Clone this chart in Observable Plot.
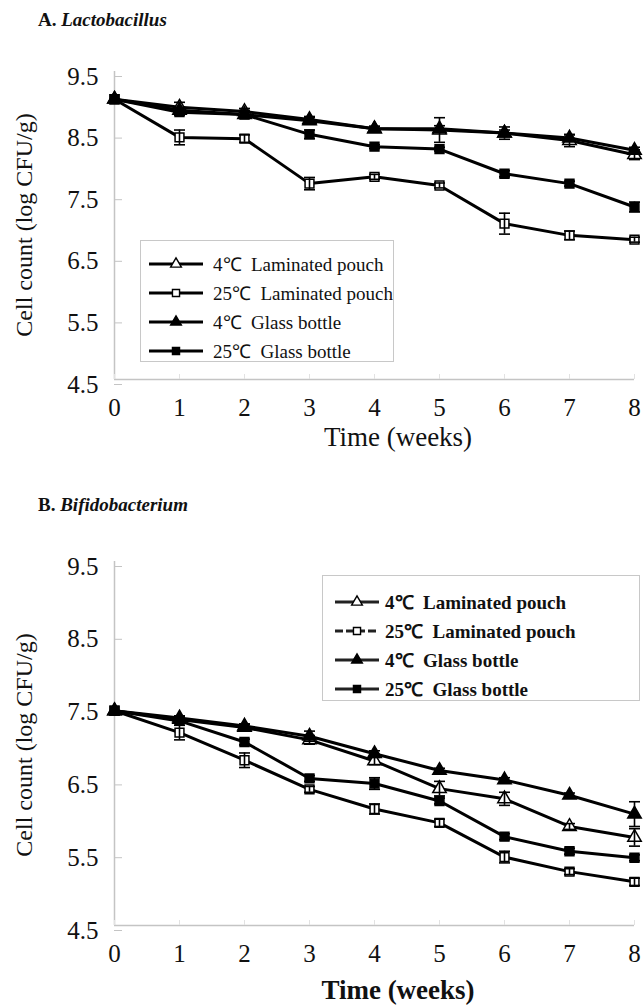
<!DOCTYPE html>
<html>
<head>
<meta charset="utf-8">
<script src="https://cdn.jsdelivr.net/npm/d3@7"></script>
<script src="https://cdn.jsdelivr.net/npm/@observablehq/plot@0.6"></script>
<style>
  html, body { margin: 0; padding: 0; background: #fff; }
  #page { position: relative; width: 644px; height: 1005px; overflow: hidden; font-family: "Liberation Serif", "Times New Roman", serif; color: #111; }
  .ptitle { position: absolute; left: 38px; font-size: 19px; font-weight: bold; }
  .ptitle i { font-style: italic; }
  .panel { position: absolute; left: 0; }
  .ylab { position: absolute; font-size: 24px; white-space: nowrap; transform: translate(-50%, -50%) rotate(-90deg); }
  .xlab { position: absolute; font-size: 27px; white-space: nowrap; transform: translate(-50%, -50%); }
  .legend { position: absolute; border: 1.5px solid #c8c8c8; background: #fff; box-sizing: border-box; overflow: hidden; }
  .legend .row { position: absolute; left: 0; display: flex; align-items: center; white-space: nowrap; }
  .legend svg { display: block; }
</style>
</head>
<body>
<div id="page"></div>
<script>
// ---------------- data ----------------
const weeks = [0, 1, 2, 3, 4, 5, 6, 7, 8];
const seriesNames = ["4℃ Laminated pouch", "25℃ Laminated pouch", "4℃ Glass bottle", "25℃ Glass bottle"];
const seriesOpen = [true, true, false, false];
const seriesSymbols = ["triangle", "square", "triangle", "square"];
const yTicks = [4.5, 5.5, 6.5, 7.5, 8.5, 9.5];

// A. Lactobacillus
const aLP4 = [9.05, 8.92, 8.85, 8.72, 8.57, 8.55, 8.50, 8.38, 8.15];
const aLP4err = [0, 0.08, 0.05, 0.05, 0.04, 0.20, 0.10, 0.10, 0.08];
const aLP25 = [9.05, 8.43, 8.41, 7.68, 7.79, 7.65, 7.03, 6.84, 6.77];
const aLP25err = [0, 0.12, 0.06, 0.10, 0.04, 0.04, 0.17, 0.07, 0.04];
const aGB4 = [9.05, 8.87, 8.80, 8.70, 8.57, 8.57, 8.50, 8.42, 8.22];
const aGB4err = [0, 0.05, 0.06, 0.05, 0.04, 0.05, 0.05, 0.05, 0.05];
const aGB25 = [9.05, 8.84, 8.80, 8.48, 8.28, 8.24, 7.84, 7.68, 7.30];
const aGB25err = [0, 0.05, 0.04, 0.07, 0.03, 0.03, 0.05, 0.04, 0.08];

// B. Bifidobacterium
const bLP4 = [7.45, 7.33, 7.22, 7.05, 6.76, 6.38, 6.24, 5.86, 5.71];
const bLP4err = [0, 0.04, 0.04, 0.06, 0.05, 0.10, 0.09, 0.04, 0.12];
const bLP25 = [7.45, 7.15, 6.77, 6.37, 6.10, 5.91, 5.44, 5.24, 5.10];
const bLP25err = [0, 0.10, 0.10, 0.04, 0.07, 0.05, 0.08, 0.04, 0.05];
const bGB4 = [7.45, 7.35, 7.24, 7.10, 6.86, 6.63, 6.50, 6.29, 6.03];
const bGB4err = [0, 0.03, 0.03, 0.07, 0.04, 0.03, 0.03, 0.03, 0.17];
const bGB25 = [7.45, 7.31, 7.02, 6.52, 6.45, 6.21, 5.72, 5.52, 5.43];
const bGB25err = [0, 0.03, 0.04, 0.04, 0.08, 0.04, 0.04, 0.04, 0.04];

// ---------------- helpers ----------------
function toRows(values, errs) {
  const rows = [];
  values.forEach((vals, si) => {
    weeks.forEach((w, i) => rows.push({
      series: seriesNames[si], open: seriesOpen[si], week: w,
      value: vals[i], err: errs[si][i]
    }));
  });
  return rows;
}

const FONT = "'Liberation Serif', 'Times New Roman', serif";
const page = document.getElementById("page");

function panel(rows, o) {
  const withErr = rows.filter(d => d.err > 0);
  const chart = Plot.plot({
    width: 644, height: o.height,
    marginLeft: 114, marginRight: 10, marginTop: o.marginTop, marginBottom: o.marginBottom,
    x: { domain: [0, 8] },
    y: { domain: [4.5, 9.5] },
    symbol: { domain: seriesNames, range: seriesSymbols },
    color: { type: "identity" },
    style: { fontFamily: FONT, background: "transparent", color: "#111", overflow: "visible" },
    marks: [
      Plot.ruleY([4.5], { stroke: "#c4c4c4", strokeWidth: 1.5 }),
      Plot.ruleX([0], { stroke: "#c4c4c4", strokeWidth: 1.5 }),
      Plot.axisY({ ticks: yTicks, tickFormat: d => d.toFixed(1), tickSize: -8, tickPadding: 24,
                   fontSize: 25, stroke: "#c4c4c4", fill: "#111", dy: 5, label: null }),
      Plot.axisX({ ticks: weeks, tickFormat: d => String(d), tickSize: -5, tickPadding: 24,
                   fontSize: 25, stroke: "#e2e2e2", fill: "#111", label: null }),
      Plot.line(rows, { x: "week", y: "value", z: "series", stroke: "#000", strokeWidth: o.lineWidth }),
      Plot.dot(rows, { x: "week", y: "value", symbol: "series", r: o.r,
                       fill: d => d.open ? "#fff" : "#000", stroke: "#000", strokeWidth: 1.5 }),
      Plot.ruleX(withErr, { x: "week", y1: d => d.value - d.err, y2: d => d.value + d.err, stroke: "#000", strokeWidth: 1.6 }),
      Plot.link(withErr, { x1: d => d.week - 0.085, x2: d => d.week + 0.085, y1: d => d.value + d.err, y2: d => d.value + d.err, stroke: "#000", strokeWidth: 1.6 }),
      Plot.link(withErr, { x1: d => d.week - 0.085, x2: d => d.week + 0.085, y1: d => d.value - d.err, y2: d => d.value - d.err, stroke: "#000", strokeWidth: 1.6 })
    ]
  });
  const wrap = document.createElement("div");
  wrap.className = "panel";
  wrap.style.top = o.top + "px";
  wrap.appendChild(chart);
  page.appendChild(wrap);
}

function addText(cls, html, x, y) {
  const el = document.createElement("div");
  el.className = cls;
  el.innerHTML = html;
  el.style.left = x + "px";
  el.style.top = y + "px";
  page.appendChild(el);
  return el;
}

function legend(o) {
  const box = document.createElement("div");
  box.className = "legend";
  Object.assign(box.style, { left: o.left + "px", top: o.top + "px", width: o.width + "px", height: o.height + "px" });
  seriesNames.forEach((name, i) => {
    const row = document.createElement("div");
    row.className = "row";
    row.style.top = (o.firstRow + i * o.rowGap - 12) + "px";
    row.style.left = o.padLeft + "px";
    row.style.height = "24px";
    const svg = d3.create("svg").attr("width", o.sampleW).attr("height", 24);
    svg.append("line").attr("x1", 0).attr("x2", o.sampleW).attr("y1", 12).attr("y2", 12)
      .attr("stroke", o.lineColor).attr("stroke-width", o.sampleStroke)
      .attr("stroke-dasharray", o.dashed && i === 1 ? "8,3" : null);
    const sym = seriesSymbols[i] === "triangle" ? d3.symbolTriangle : d3.symbolSquare;
    svg.append("path").attr("d", d3.symbol(sym, 50)())
      .attr("transform", `translate(${o.sampleW / 2},12)`)
      .attr("fill", seriesOpen[i] ? "#fff" : "#000").attr("stroke", "#000").attr("stroke-width", 1.4);
    row.appendChild(svg.node());
    const t = document.createElement("span");
    t.textContent = name.replace("℃", "℃ ");
    Object.assign(t.style, { marginLeft: o.gap + "px", fontSize: o.fontSize + "px", fontWeight: o.fontWeight, whiteSpace: "pre" });
    row.appendChild(t);
    box.appendChild(row);
  });
  page.appendChild(box);
}

// ---------------- panel A ----------------
addText("ptitle", "A. <i>Lactobacillus</i>", 38, 9);
panel(toRows([aLP4, aLP25, aGB4, aGB25], [aLP4err, aLP25err, aGB4err, aGB25err]),
      { top: 40, height: 409, marginTop: 31, marginBottom: 70, lineWidth: 3, r: 5 });
addText("ylab", "Cell count (log CFU/g)", 24, 225);
addText("xlab", "Time (weeks)", 398, 437);
legend({ left: 140, top: 240, width: 254, height: 122, firstRow: 23, rowGap: 29, padLeft: 8,
         sampleW: 54, gap: 10, fontSize: 19, fontWeight: "normal", sampleStroke: 3, lineColor: "#000", dashed: false });

// ---------------- panel B ----------------
addText("ptitle", "B. <i>Bifidobacterium</i>", 38, 494);
panel(toRows([bLP4, bLP25, bGB4, bGB25], [bLP4err, bLP25err, bGB4err, bGB25err]),
      { top: 530, height: 475, marginTop: 31, marginBottom: 80, lineWidth: 3, r: 5 });
addText("ylab", "Cell count (log CFU/g)", 24, 745);
addText("xlab", "<b>Time (weeks)</b>", 398, 990);
legend({ left: 322, top: 575, width: 318, height: 126, firstRow: 26, rowGap: 29, padLeft: 12,
         sampleW: 44, gap: 6, fontSize: 19, fontWeight: "bold", sampleStroke: 3, lineColor: "#222", dashed: true });
</script>
</body>
</html>
